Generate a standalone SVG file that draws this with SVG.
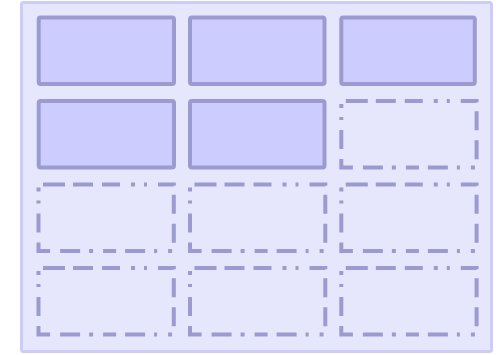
<svg xmlns="http://www.w3.org/2000/svg" width="502" height="355" viewBox="0 0 502 355">
<style>
.container{fill:#e6e6fd;stroke:#ccccfb;stroke-width:3}
.item{fill:#ccccff;stroke:#9b9bcf;stroke-width:4}
.cell{fill:none;stroke:#9b9bcf;stroke-width:4;stroke-dasharray:22 8 20 9 18 11 4 9 3 11 17 9 19 10 19 10 4 11 3 9 20 9 13 10 4 9 20 10 20 10 19 10 3 9 4 8;stroke-dashoffset:-4.5}
</style>
<rect id="container" class="container" x="21.5" y="2.5" width="470" height="349" rx="2"/>
<g id="connectors"></g>
<g id="item1"><rect class="item" x="38.7" y="17.5" width="135.3" height="66.5" rx="2"/></g>
<g id="item2"><rect class="item" x="190" y="17.5" width="134.5" height="66.5" rx="2"/></g>
<g id="item3"><rect class="item" x="341.3" y="17.5" width="133.5" height="66.5" rx="2"/></g>
<g id="item4"><rect class="item" x="38.7" y="101" width="135.3" height="66.5" rx="2"/></g>
<g id="item5"><rect class="item" x="190" y="101" width="134.5" height="66.5" rx="2"/></g>
<g id="cell6"><rect class="cell" x="341.3" y="101" width="135.3" height="66.5"/></g>
<g id="cell7"><rect class="cell" x="38.5" y="184.5" width="135.3" height="66.5"/></g>
<g id="cell8"><rect class="cell" x="190" y="184.5" width="135.3" height="66.5"/></g>
<g id="cell9"><rect class="cell" x="341.3" y="184.5" width="135.3" height="66.5"/></g>
<g id="cell10"><rect class="cell" x="38.5" y="268" width="135.3" height="66.5"/></g>
<g id="cell11"><rect class="cell" x="190" y="268" width="135.3" height="66.5"/></g>
<g id="cell12"><rect class="cell" x="341.3" y="268" width="135.3" height="66.5"/></g>
</svg>
